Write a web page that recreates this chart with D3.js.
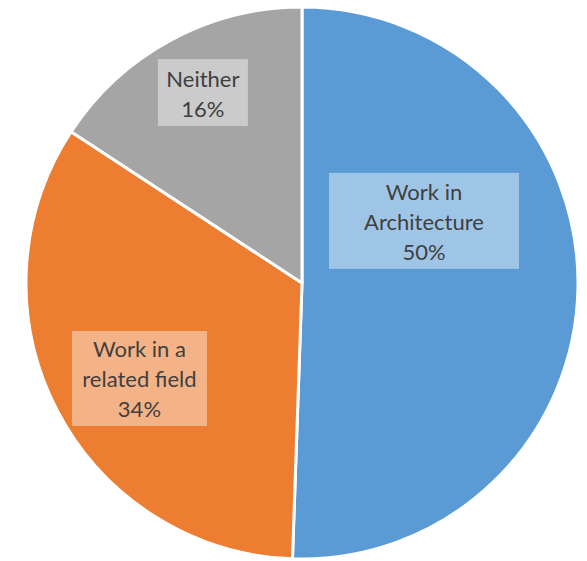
<!DOCTYPE html>
<html><head><meta charset="utf-8">
<script src="https://cdn.jsdelivr.net/npm/d3@7"></script>
<style>body{margin:0;background:#fff}svg{display:block}</style>
</head><body>
<svg id="chart" width="587" height="561"></svg>
<script>
const categories = ["Work in Architecture", "Work in a related field", "Neither"];
const values = [50.55, 33.68, 15.77];
const valueLabels = ["50%", "34%", "16%"];
const labelLines = [["Work in", "Architecture"], ["Work in a", "related field"], ["Neither"]];
const colors = ["#5B9BD5", "#ED7D31", "#A5A5A5"];

// layout (not data)
const cx = 302, cy = 283, R = 276;
const labelPos = [[0.442, -0.225], [-0.589, 0.346], [-0.359, -0.69]];
const boxSize = [[190, 96], [135, 95], [90, 67]];

const svg = d3.select("#chart");
const g = svg.append("g").attr("transform", `translate(${cx},${cy})`);
const pie = d3.pie().sort(null).value(d => d)(values);
const arc = d3.arc().innerRadius(0).outerRadius(R);

g.selectAll("path.slice").data(pie).join("path")
  .attr("class", "slice")
  .attr("d", arc)
  .attr("fill", (d, i) => colors[i])
  .attr("stroke", "#fff")
  .attr("stroke-width", 3)
  .attr("stroke-linejoin", "round");

const lbl = g.selectAll("g.lbl").data(pie).join("g")
  .attr("class", "lbl")
  .attr("transform", (d, i) => `translate(${labelPos[i][0] * R},${labelPos[i][1] * R})`);

lbl.append("rect")
  .attr("x", (d, i) => -boxSize[i][0] / 2)
  .attr("y", (d, i) => -boxSize[i][1] / 2)
  .attr("width", (d, i) => boxSize[i][0])
  .attr("height", (d, i) => boxSize[i][1])
  .attr("fill", "#fff")
  .attr("fill-opacity", 0.42);

lbl.each(function(d, i) {
  const lines = labelLines[i].concat([valueLabels[i]]);
  const n = lines.length;
  const t = d3.select(this).append("text")
    .attr("text-anchor", "middle")
    .attr("fill", "#404040")
    .style("font-family", "Lato, 'Open Sans', sans-serif")
    .style("font-size", "22px");
  lines.forEach((s, k) => {
    t.append("tspan").attr("x", 0).attr("y", 9 + (k - (n - 1) / 2) * 30).text(s);
  });
});
</script>
</body></html>
